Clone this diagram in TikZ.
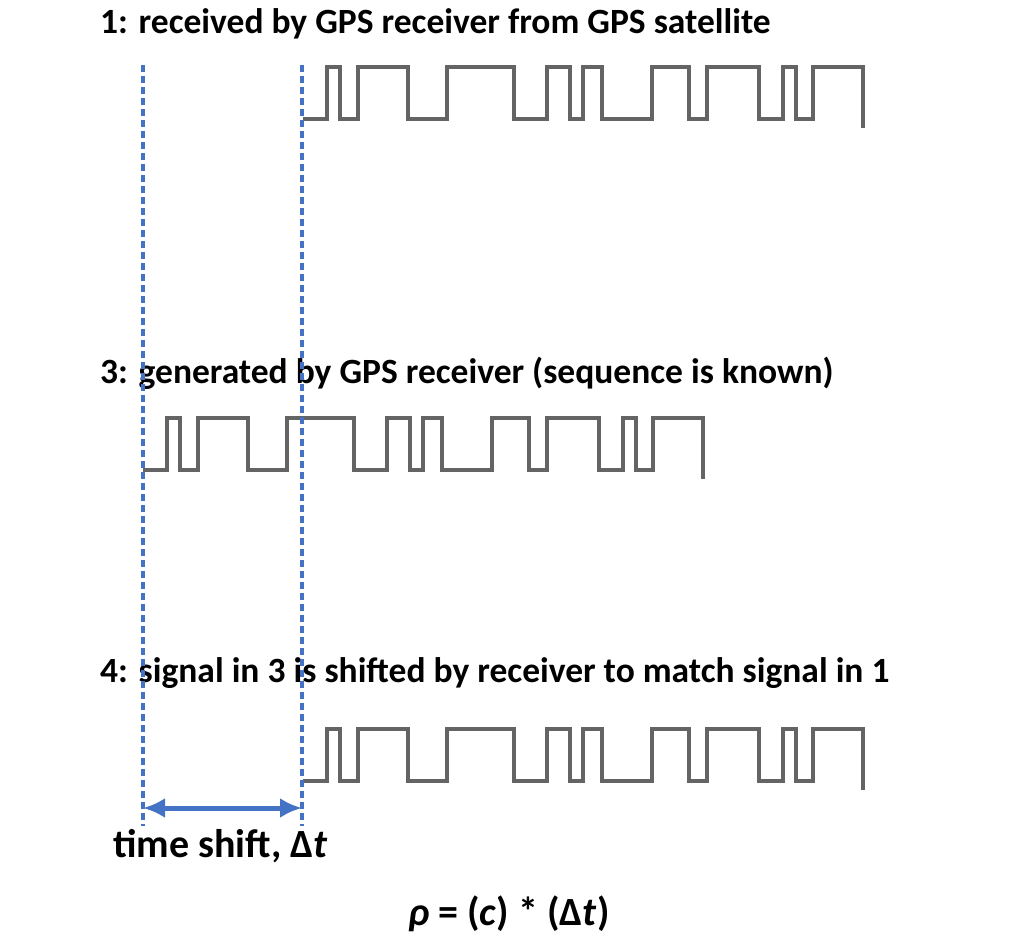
\documentclass[tikz,border=0pt]{standalone}
\usepackage{fontspec}
\setmainfont{Carlito}
\usetikzlibrary{arrows.meta}
\definecolor{shiftblue}{RGB}{68,114,196}
\definecolor{wavegray}{RGB}{100,100,100}
\tikzset{
  title/.style={anchor=base west, inner sep=0pt, font=\fontsize{35.5}{40}\selectfont\bfseries},
  bigtext/.style={anchor=base west, inner sep=0pt, font=\fontsize{40}{46}\selectfont\bfseries},
  wave/.style={draw=wavegray, line width=3.1pt, line join=miter},
  marker/.style={draw=shiftblue, line width=3.1pt, dash pattern=on 7pt off 4pt},
  shiftarrow/.style={draw=shiftblue, line width=5pt, {Latex[length=22pt,width=20pt]}-{Latex[length=22pt,width=20pt]}},
  prn/.pic={
    \draw [wave] (0,0)
      \foreach \a/\b in {24/37,55/105,144/211,244/267,280/299,349/386,404/456,480/493}
        { -- (\a,0) -- (\a,-52) -- (\b,-52) -- (\b,0) }
      -- (510,0) -- (510,-52) -- (560,-52) -- (560,9);
  }
}
\begin{document}
\begin{tikzpicture}[x=1pt,y=-1pt]
\useasboundingbox (0,0) rectangle (1030,950);
% titles
\node [title] (t1) at (100,34) {1: received by GPS receiver from GPS satellite};
\node [title] (t3) at (100,383) {3: generated by GPS receiver (sequence is known)};
\node [title] (t4) at (100,682) {4: signal in 3 is shifted by receiver to match signal in 1};
% the three code sequences
\pic at (303,119) {prn};
\pic at (143,470) {prn};
\pic at (303,781) {prn};
% time markers
\coordinate (leftTop) at (143,65);
\coordinate (leftBot) at (143,826);
\coordinate (rightTop) at (302,65);
\coordinate (rightBot) at (302,826);
\draw [marker] (leftTop) -- (leftBot);
\draw [marker] (rightTop) -- (rightBot);
\coordinate (arrL) at (143,808);
\coordinate (arrR) at (302,808);
\draw [shiftarrow] (arrL) -- (arrR);
\node [bigtext] (shift) at (113,857) {time shift, Δ\textit{t}};
\node [bigtext] (rho) at (408,925) {\textit{ρ} = (\textit{c}) * (Δ\textit{t})};
\end{tikzpicture}
\end{document}
